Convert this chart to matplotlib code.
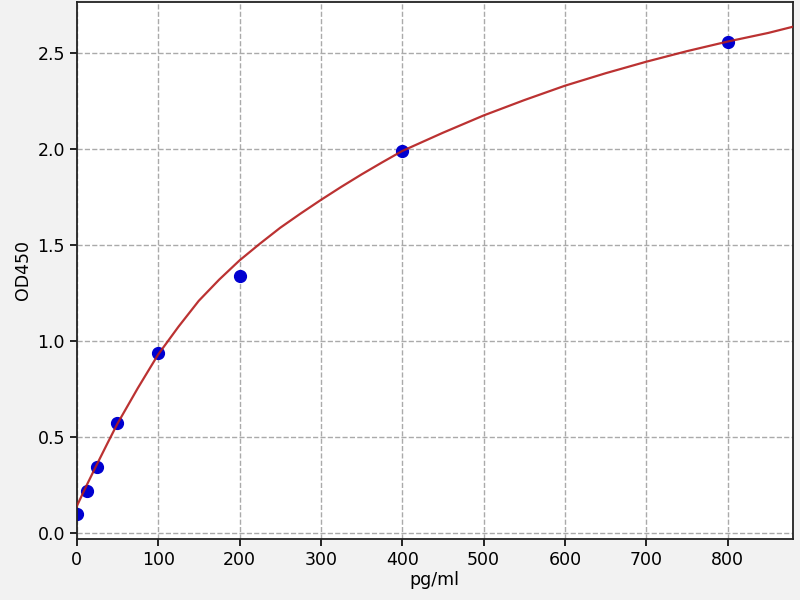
import numpy as np
import matplotlib
matplotlib.use('Agg')
import matplotlib.pyplot as plt

# Standard points (concentration, OD)
conc = [0, 12.5, 25, 50, 100, 200, 400, 800]
od = [0.10, 0.22, 0.343, 0.571, 0.936, 1.338, 1.988, 2.558]

# Fitted curve
fit_x = [0, 12.5, 25, 37.5, 50, 75, 100, 125, 150, 175, 200, 225, 250, 275,
         300, 325, 350, 375, 400, 450, 500, 550, 600, 650, 700, 750, 800,
         850, 880]
fit_y = [0.14, 0.252, 0.36, 0.466, 0.57, 0.755, 0.93, 1.075, 1.21, 1.32,
         1.42, 1.507, 1.59, 1.664, 1.735, 1.803, 1.868, 1.93, 1.99, 2.085,
         2.175, 2.255, 2.33, 2.395, 2.455, 2.51, 2.56, 2.605, 2.637]

x_ticks = [0, 100, 200, 300, 400, 500, 600, 700, 800]
y_ticks = [0.0, 0.5, 1.0, 1.5, 2.0, 2.5]

fig = plt.figure(figsize=(8, 6), dpi=100, facecolor='#f2f2f2')
ax = fig.add_axes([0.096, 0.102, 0.895, 0.895])
ax.set_facecolor('white')

ax.plot(conc, od, 'o', color='#0000d0', markersize=8.5, zorder=2)
ax.plot(fit_x, fit_y, '-', color='#b41c1c', linewidth=1.6, alpha=0.9, zorder=3)

ax.set_xlim(0, 880)
ax.set_ylim(-0.03, 2.767)
ax.set_xticks(x_ticks)
ax.set_yticks(y_ticks)
ax.tick_params(labelsize=12.5, length=5, width=1.2)
ax.grid(True, linestyle='--', color='#aaaaaa', linewidth=1.0)
for s in ax.spines.values():
    s.set_linewidth(1.3)
    s.set_color('#222222')

ax.set_xlabel('pg/ml', fontsize=12.5, labelpad=2)
ax.set_ylabel('OD450', fontsize=12.5, labelpad=4)

fig.savefig('out.png', dpi=100, facecolor=fig.get_facecolor())
